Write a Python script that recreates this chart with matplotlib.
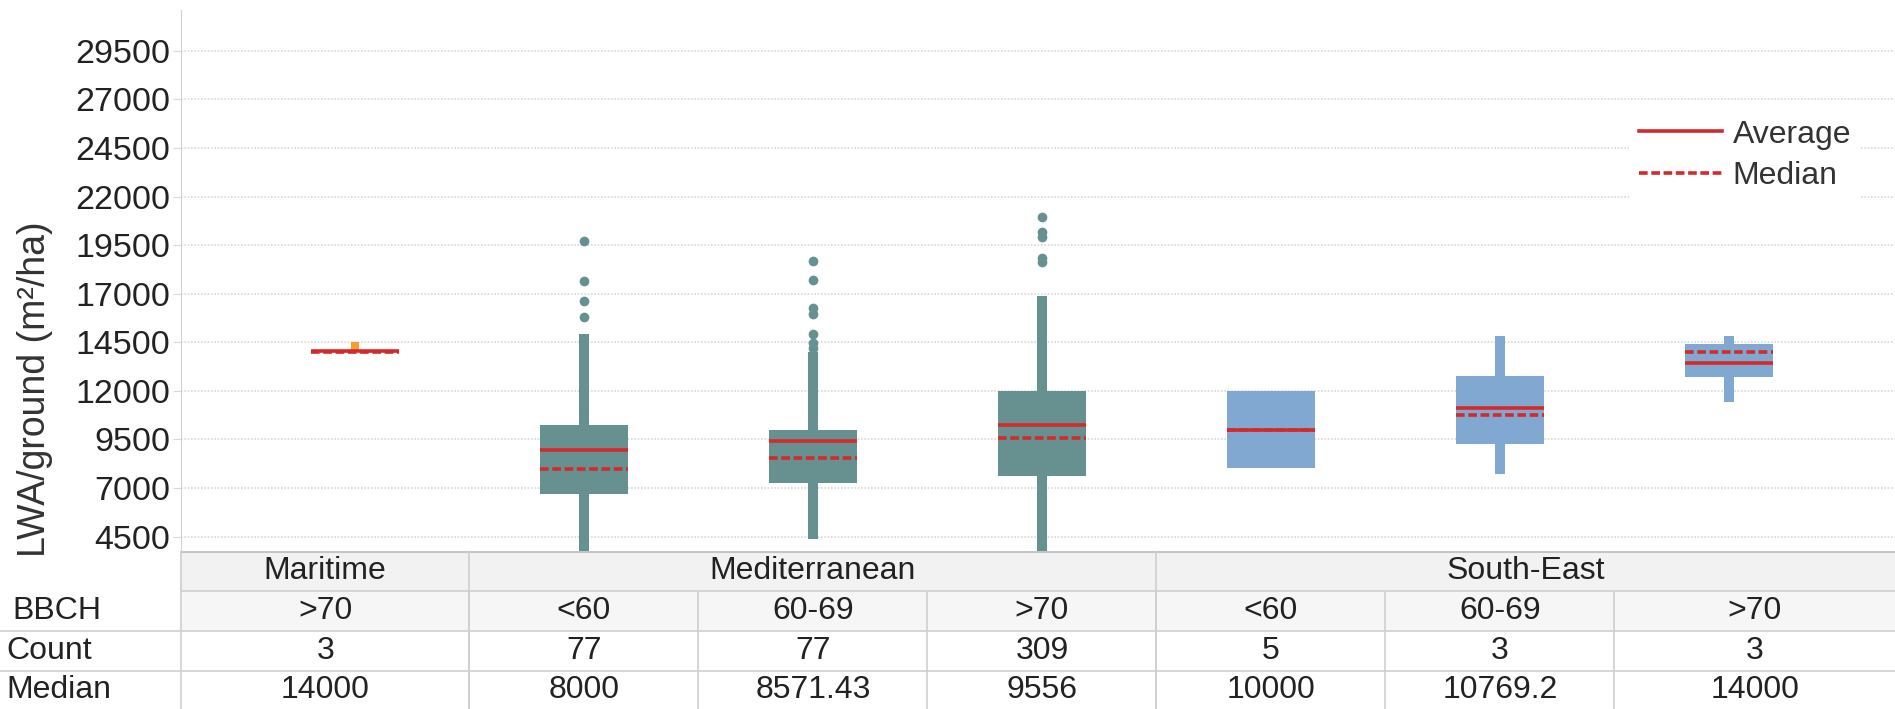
import matplotlib
matplotlib.use("Agg")
import matplotlib.pyplot as plt
import numpy as np
from matplotlib.lines import Line2D

plt.rcParams['font.family'] = ['Liberation Sans', 'DejaVu Sans']

# ---------------- data ----------------
regions = ['Maritime', 'Mediterranean', 'South-East']
region_span = [(0, 0), (1, 3), (4, 6)]
bbch = ['>70', '<60', '60-69', '>70', '<60', '60-69', '>70']
counts = [3, 77, 77, 309, 5, 3, 3]
median_labels = ['14000', '8000', '8571.43', '9556', '10000', '10769.2', '14000']
group = [0, 1, 1, 1, 2, 2, 2]

q1 = [14000, 6720, 7260, 7640, 8040, 9280, 12740]
q3 = [14000, 10220, 10010, 12020, 12020, 12790, 14420]
avg = [14050, 8960, 9410, 10250, 10010, 11100, 13440]
med = [14000, 8000, 8571.43, 9556, 10000, 10769.2, 14000]
whisk_lo = [None, 3000, 4400, 3000, None, 7730, 11440]
whisk_hi = [None, 14930, 14000, 16900, None, 14810, 14810]
outliers = [
    [],
    [15780, 16640, 17660, 19700],
    [14200, 14480, 14940, 15960, 16280, 17710, 18700],
    [18620, 18840, 19940, 20160, 20970],
    [],
    [],
    [],
]
orange_point = (0, 14300)

yticks = [4500, 7000, 9500, 12000, 14500, 17000, 19500, 22000, 24500, 27000, 29500]

# ---------------- style ----------------
W, H = 1895, 709
teal = '#679090'
blue = '#80a8d0'
red = '#d42a2a'
box_colors = {0: teal, 1: teal, 2: blue}
grid_col = '#d8d8d8'
txt_col = '#222222'

fig = plt.figure(figsize=(W / 100, H / 100), dpi=100)

# pixel geometry
x0_px, step_px = 355, 229
ax_left_px, ax_top_px, ax_bot_px = 181, 10, 551
xl = ((ax_left_px - x0_px) / step_px, (W - x0_px) / step_px)

ax = fig.add_axes([ax_left_px / W, (H - ax_bot_px) / H,
                   1 - ax_left_px / W, (ax_bot_px - ax_top_px) / H])
ax.set_xlim(*xl)
ax.set_ylim(3764, 31594)
ax.set_yticks(yticks)
ax.set_yticklabels([str(t) for t in yticks], fontsize=24.5, color=txt_col)
ax.set_xticks([])
ax.tick_params(axis='y', length=6, color=grid_col, pad=2)
for s in ['top', 'right', 'bottom']:
    ax.spines[s].set_visible(False)
ax.spines['left'].set_color('#d0d0d0')
ax.yaxis.grid(True, color=grid_col, linestyle=(0, (1, 1)), linewidth=1.2)
ax.set_axisbelow(True)
ax.set_ylabel('LWA/ground (m²/ha)', fontsize=27, color='#333333')
ax.yaxis.set_label_coords(-0.0745, 0.30)

box_w = 0.384
wh_w = 0.042
xs = np.arange(len(bbch))
for i in xs:
    c = box_colors[group[i]]
    if whisk_lo[i] is not None:
        ax.bar(i, q1[i] - whisk_lo[i], bottom=whisk_lo[i], width=wh_w, color=c, zorder=2)
    if whisk_hi[i] is not None:
        ax.bar(i, whisk_hi[i] - q3[i], bottom=q3[i], width=wh_w, color=c, zorder=2)
    if q3[i] > q1[i]:
        ax.bar(i, q3[i] - q1[i], bottom=q1[i], width=box_w, color=c, zorder=2)
    if outliers[i]:
        ax.plot([i] * len(outliers[i]), outliers[i], 'o', color=c, markersize=7,
                markeredgewidth=0, zorder=3)
    ax.hlines(avg[i], i - box_w / 2, i + box_w / 2, color=red, linewidth=2.6, zorder=4)
    ax.hlines(med[i], i - box_w / 2, i + box_w / 2, color=red, linewidth=2.6,
              linestyles=[(0, (2.4, 1.0))], zorder=4)
ax.plot([orange_point[0]], [orange_point[1]], 's', color='#f0a030', markersize=6,
        markeredgewidth=0, zorder=3)

handles = [Line2D([], [], color=red, lw=2.6),
           Line2D([], [], color=red, lw=2.6, linestyle=(0, (2.4, 1.0)))]
leg = ax.legend(handles, ['Average', 'Median'], loc='upper left',
                bbox_to_anchor=(1629 / W, (H - 110) / H), bbox_transform=fig.transFigure,
                fontsize=23, frameon=True, handlelength=2.6, handletextpad=0.35,
                labelspacing=0.35, borderpad=0.3, borderaxespad=0)
leg.get_frame().set_facecolor('white')
leg.get_frame().set_edgecolor('none')
leg.get_frame().set_alpha(1)
for t in leg.get_texts():
    t.set_color('#333333')

# ---------------- table ----------------
tab_h = H - ax_bot_px
tx = fig.add_axes([0, 0, 1, tab_h / H])
tx.set_xlim((0 - x0_px) / step_px, xl[1])
tx.set_ylim(tab_h, 0)
tx.axis('off')

xleft_tab = xl[0]
xright = xl[1]
xfull_left = (0 - x0_px) / step_px
line_col = '#cfcfcf'

# backgrounds
tx.fill_between([xleft_tab, xright], 0, 40, color='#f2f2f2', lw=0)
tx.fill_between([xleft_tab, xright], 40, 80, color='#f6f6f6', lw=0)

# horizontal lines
tx.hlines(0.5, xleft_tab, xright, color='#c4c4c4', lw=1.5)
tx.hlines(40, xleft_tab, xright, color=line_col, lw=1.2)
tx.hlines(80, xfull_left, xright, color=line_col, lw=1.2)
tx.hlines(120, xfull_left, xright, color=line_col, lw=1.2)

# vertical lines
tx.vlines(xleft_tab, 0, tab_h, color=line_col, lw=1.2)
col_bounds = [xleft_tab] + [i + 0.5 for i in range(len(bbch) - 1)] + [xright]
for gi, (a, b) in enumerate(region_span):
    if gi > 0:
        tx.vlines(a - 0.5, 0, tab_h, color=line_col, lw=1.2)
for i in range(1, len(bbch)):
    tx.vlines(i - 0.5, 40, tab_h, color=line_col, lw=1.2)

fs_tab = 23
for gi, (a, b) in enumerate(region_span):
    lo = col_bounds[a]
    hi = col_bounds[b + 1]
    tx.text((lo + hi) / 2, 20, regions[gi], ha='center', va='center', fontsize=fs_tab, color=txt_col)
for i in range(len(bbch)):
    cx = (col_bounds[i] + col_bounds[i + 1]) / 2
    tx.text(cx, 60, bbch[i], ha='center', va='center', fontsize=fs_tab, color=txt_col)
    tx.text(cx, 100, str(counts[i]), ha='center', va='center', fontsize=fs_tab, color=txt_col)
    tx.text(cx, 139, median_labels[i], ha='center', va='center', fontsize=fs_tab, color=txt_col)

lab_x = (6 - x0_px) / step_px
tx.text((12 - x0_px) / step_px, 60, 'BBCH', ha='left', va='center', fontsize=fs_tab, color=txt_col)
tx.text(lab_x, 100, 'Count', ha='left', va='center', fontsize=fs_tab, color=txt_col)
tx.text(lab_x, 139, 'Median', ha='left', va='center', fontsize=fs_tab, color=txt_col)

fig.savefig('out.png', dpi=100)
